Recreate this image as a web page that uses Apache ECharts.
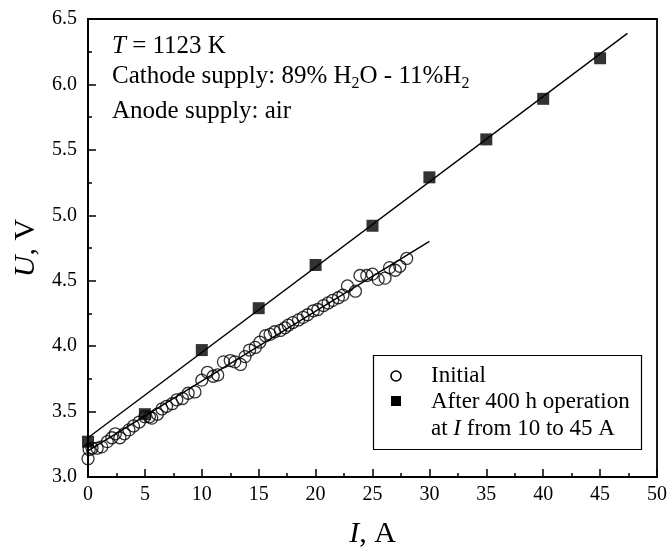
<!DOCTYPE html>
<html><head><meta charset="utf-8">
<script src="https://cdn.jsdelivr.net/npm/echarts@6/dist/echarts.min.js"></script>
<style>html,body{margin:0;padding:0;background:#fff}#c{width:671px;height:554px}</style>
</head><body><div id="c"></div>
<script>
// Data
const initialI = [0,0.1,0.35,0.8,1.2,1.7,2.1,2.4,2.8,3.2,3.6,4.0,4.5,5.0,5.4,5.6,6.1,6.5,6.9,7.4,7.8,8.3,8.8,9.4,10.0,10.5,11.0,11.4,11.9,12.5,12.9,13.4,13.8,14.2,14.7,15.1,15.6,16.0,16.4,16.9,17.3,17.6,18.0,18.5,18.9,19.3,19.8,20.2,20.7,21.1,21.5,22.0,22.4,22.8,23.5,23.9,24.5,25.0,25.5,26.1,26.5,27.0,27.4,28.0];
const initialU = [3.14,3.21,3.22,3.22,3.23,3.27,3.30,3.33,3.30,3.33,3.36,3.39,3.42,3.46,3.46,3.45,3.48,3.52,3.54,3.56,3.59,3.60,3.64,3.65,3.74,3.80,3.77,3.78,3.88,3.89,3.88,3.86,3.92,3.97,3.99,4.03,4.08,4.09,4.11,4.12,4.14,4.16,4.18,4.20,4.22,4.24,4.27,4.28,4.31,4.33,4.35,4.37,4.39,4.46,4.42,4.54,4.54,4.55,4.51,4.52,4.60,4.58,4.61,4.67];
const afterI = [0,5,10,15,20,25,30,35,40,45];
const afterU = [3.27,3.48,3.97,4.29,4.62,4.92,5.29,5.58,5.89,6.20];
const fitInitialI = [0,30];
const fitInitialU = [3.20,4.80];
const fitAfterI = [0,47.4];
const fitAfterU = [3.30,6.39];
const xTicks = [0,5,10,15,20,25,30,35,40,45,50];
const yTicks = [3.0,3.5,4.0,4.5,5.0,5.5,6.0,6.5];

const zip = (a,b) => a.map((v,i)=>[v,b[i]]);
const FONT = '"Liberation Serif","DejaVu Serif",serif';
const chart = echarts.init(document.getElementById('c'));
chart.setOption({
  animation:false,
  backgroundColor:'#fff',
  grid:{left:88,right:14,top:19,bottom:73,show:true,borderColor:'#000',borderWidth:1.8,backgroundColor:'transparent'},
  xAxis:{type:'value',min:xTicks[0],max:xTicks[xTicks.length-1],interval:5,
    axisLine:{lineStyle:{color:'#000',width:1.8}},
    axisTick:{inside:true,length:8,lineStyle:{color:'#000',width:1.5}},
    minorTick:{show:true,splitNumber:2,length:4,lineStyle:{color:'#000',width:1.5}},
    splitLine:{show:false},
    axisLabel:{color:'#000',fontFamily:FONT,fontSize:20,margin:8,formatter:v=>String(v)},
    name:'{i|I}, A',nameLocation:'middle',nameGap:42,
    nameTextStyle:{color:'#000',fontFamily:FONT,fontSize:30,rich:{i:{fontStyle:'italic',fontFamily:FONT,fontSize:30,color:'#000'}}}
  },
  yAxis:{type:'value',min:yTicks[0],max:yTicks[yTicks.length-1],interval:0.5,
    axisLine:{lineStyle:{color:'#000',width:1.8}},
    axisTick:{inside:true,length:8,lineStyle:{color:'#000',width:1.5}},
    minorTick:{show:true,splitNumber:2,length:4,lineStyle:{color:'#000',width:1.5}},
    splitLine:{show:false},
    axisLabel:{color:'#000',fontFamily:FONT,fontSize:20,margin:11,formatter:v=>v.toFixed(1)},
    name:'{i|U}, V',nameLocation:'middle',nameGap:42,
    nameTextStyle:{color:'#000',fontFamily:FONT,fontSize:30,rich:{i:{fontStyle:'italic',fontFamily:FONT,fontSize:30,color:'#000'}}}
  },
  series:[
    {type:'line',data:zip(fitAfterI,fitAfterU),symbol:'none',lineStyle:{color:'#000',width:1.4},z:1},
    {type:'line',data:zip(fitInitialI,fitInitialU),symbol:'none',lineStyle:{color:'#000',width:1.4},z:1},
    {name:'Initial',type:'scatter',data:zip(initialI,initialU),symbol:'circle',symbolSize:12,
      itemStyle:{color:'rgba(255,255,255,0)',borderColor:'#000',borderWidth:1.3},z:3},
    {name:'After',type:'scatter',data:zip(afterI,afterU),symbol:'rect',symbolSize:12,
      itemStyle:{color:'#000'},z:4}
  ],
  graphic:[
    {type:'text',left:112,top:34,style:{text:'{i|T} = 1123 K',font:'25px '+FONT,fill:'#000',
      rich:{i:{fontStyle:'italic',fontSize:25,fontFamily:FONT,fill:'#000'}}}},
    {type:'text',left:112,top:64,style:{text:'Cathode supply: 89% H{s|2}O - 11%H{s|2}',font:'25px '+FONT,fill:'#000',
      rich:{s:{fontSize:16,fontFamily:FONT,padding:[14,0,0,0],fill:'#000'}}}},
    {type:'text',left:112,top:99,style:{text:'Anode supply: air',font:'25px '+FONT,fill:'#000'}},
    {type:'rect',shape:{x:373.5,y:355.5,width:268,height:94},style:{fill:'#fff',stroke:'#000',lineWidth:1.2},z:10},
    {type:'circle',shape:{cx:396,cy:376,r:5},style:{fill:'#fff',stroke:'#000',lineWidth:1.6},z:11},
    {type:'rect',shape:{x:391,y:396,width:10,height:10},style:{fill:'#000'},z:11},
    {type:'text',left:431,top:364,z:11,style:{text:'Initial',font:'23px '+FONT,fill:'#000'}},
    {type:'text',left:431,top:390,z:11,style:{text:'After 400 h operation',font:'23px '+FONT,fill:'#000'}},
    {type:'text',left:431,top:417,z:11,style:{text:'at {i|I} from 10 to 45 A',font:'23px '+FONT,fill:'#000',
      rich:{i:{fontStyle:'italic',fontSize:23,fontFamily:FONT,fill:'#000'}}}}
  ]
});
</script></body></html>
